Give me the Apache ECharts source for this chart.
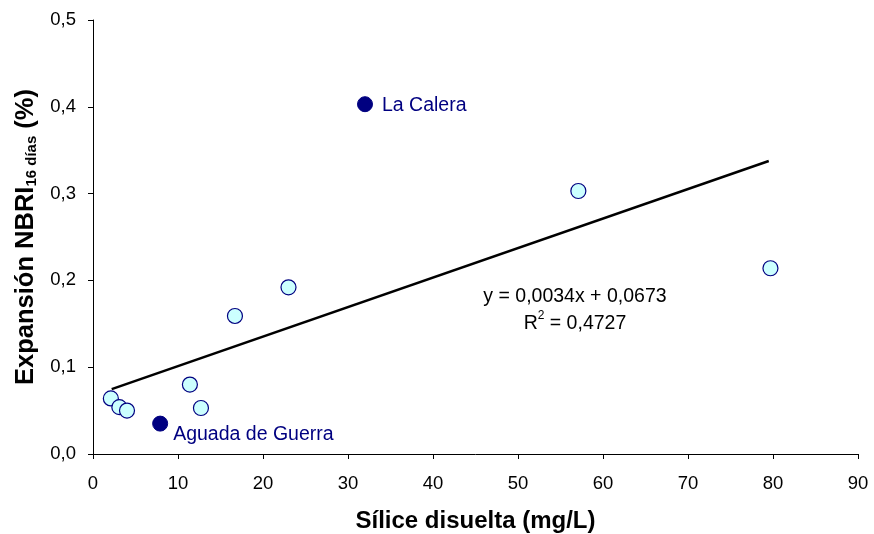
<!DOCTYPE html>
<html><head><meta charset="utf-8">
<script src="https://cdn.jsdelivr.net/npm/echarts@6/dist/echarts.min.js"></script>
<style>html,body{margin:0;padding:0;background:#fff}#c{width:874px;height:534px}</style>
</head><body><div id="c"></div>
<script>
// Data
var sampleX = [2.1, 3.1, 4.0, 11.4, 12.7, 16.7, 23.0, 57.1, 79.7];
var sampleY = [0.064, 0.054, 0.050, 0.080, 0.053, 0.159, 0.192, 0.303, 0.214];
var namedX = [32.0, 7.9];
var namedY = [0.403, 0.035];
var namedLabels = ['La Calera', 'Aguada de Guerra'];
var trendX = [2.2, 79.5];
var trendY = [0.0748, 0.3376];
var eqPos = [56.7, 0.166];
var eqLine1 = 'y = 0,0034x + 0,0673';
var eqLine2 = 'R{sup|2} = 0,4727';
var xTicks = [0, 90, 10];
var yTicks = [0, 0.5, 0.1];

var font = 'Liberation Sans, Arial, sans-serif';
var chart = echarts.init(document.getElementById('c'), null, {renderer: 'canvas'});
chart.setOption({
  animation: false,
  backgroundColor: '#fff',
  grid: {left: 93, right: 16, top: 20, bottom: 80, containLabel: false, outerBoundsMode: 'none'},
  xAxis: {
    type: 'value', min: xTicks[0], max: xTicks[1], interval: xTicks[2],
    name: 'Sílice disuelta (mg/L)', nameLocation: 'middle', nameGap: 55,
    nameTextStyle: {fontFamily: font, fontSize: 24, fontWeight: 'bold', color: '#000'},
    axisLine: {show: true, onZero: false, lineStyle: {color: '#000', width: 1}},
    axisTick: {show: true, length: 5, inside: false, lineStyle: {color: '#000'}},
    axisLabel: {fontFamily: font, fontSize: 18.5, color: '#000', margin: 20},
    splitLine: {show: false}
  },
  yAxis: {
    type: 'value', min: yTicks[0], max: yTicks[1], interval: yTicks[2],
    name: '{b|Expansión NBRI}{s|16 días}{b| (%)}', nameLocation: 'middle', nameGap: 51, nameRotate: 90,
    nameTextStyle: {
      fontFamily: font, color: '#000',
      rich: {
        b: {fontFamily: font, fontSize: 25.5, fontWeight: 'bold', color: '#000'},
        s: {fontFamily: font, fontSize: 15, fontWeight: 'bold', color: '#000', verticalAlign: 'bottom', padding: [12, 0, 0, 0]}
      }
    },
    axisLine: {show: true, onZero: false, lineStyle: {color: '#000', width: 1}},
    axisTick: {show: true, length: 5, inside: false, lineStyle: {color: '#000'}},
    axisLabel: {fontFamily: font, fontSize: 18.5, color: '#000', margin: 17,
      formatter: function (v) { return v.toFixed(1).replace('.', ','); }},
    splitLine: {show: false}
  },
  series: [
    {
      type: 'line', data: trendX.map(function (x, i) { return [x, trendY[i]]; }),
      symbol: 'none', lineStyle: {color: '#000', width: 2.5}, z: 2
    },
    {
      type: 'scatter', data: sampleX.map(function (x, i) { return [x, sampleY[i]]; }),
      symbol: 'circle', symbolSize: 15,
      itemStyle: {color: '#ccffff', borderColor: '#000080', borderWidth: 1.2, opacity: 1}, z: 3
    },
    {
      type: 'scatter', data: namedX.map(function (x, i) { return {value: [x, namedY[i]], name: namedLabels[i],
        label: i === 0 ? {position: 'right', distance: 9, offset: [0, 1]} : {position: 'right', distance: 5, offset: [0, 11]}}; }),
      symbol: 'circle', symbolSize: 15,
      itemStyle: {color: '#000080', borderColor: '#000080', borderWidth: 1, opacity: 1},
      label: {show: true, formatter: '{b}', fontFamily: font, fontSize: 19.5, color: '#000080'}, z: 3
    },
    {
      type: 'scatter', data: [eqPos], symbolSize: 0, silent: true,
      itemStyle: {opacity: 1},
      label: {
        show: true, position: 'inside', formatter: eqLine1 + '\n' + eqLine2,
        fontFamily: font, fontSize: 19.5, color: '#000', lineHeight: 27, align: 'center',
        rich: {sup: {fontFamily: font, fontSize: 12, color: '#000', verticalAlign: 'top', padding: [0, 0, 7, 0]}}
      }, z: 4
    }
  ]
});
</script></body></html>
